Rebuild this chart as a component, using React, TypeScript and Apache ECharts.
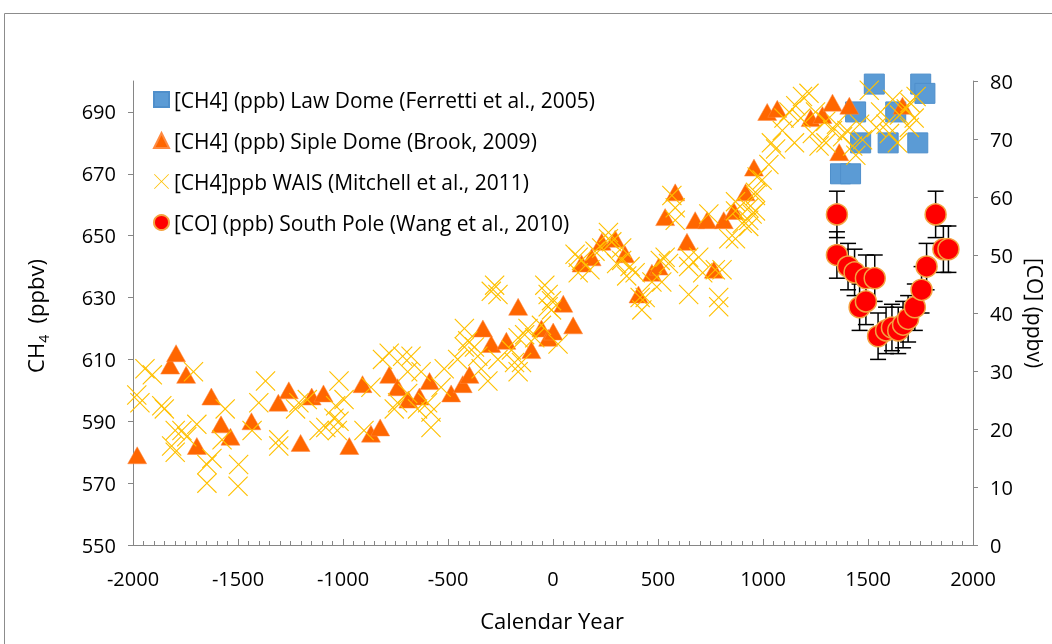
import React, { useEffect, useRef } from "react";
import * as echarts from "echarts";

// Law Dome CH4 (ppb)
const lawYears = [1369, 1417, 1441, 1465, 1530, 1596, 1632, 1737, 1751, 1771];
const lawCH4 = [670, 670, 690, 680, 699, 680, 690, 680, 699, 696];

// Siple Dome CH4 (ppb)
const sipleYears = [
  -1980, -1823, -1795, -1747, -1696, -1627, -1581, -1536, -1436, -1308, -1258, -1202, -1149, -1093,
  -970, -907, -867, -823, -780, -740, -689, -636, -588, -485, -430, -398, -334, -294, -222, -166,
  -103, -55, -23, 1, 49, 96, 136, 184, 232, 296, 343, 407, 471, 503, 534, 582, 638, 677, 734, 766,
  813, 861, 917, 957, 1020, 1068, 1227, 1283, 1331, 1363, 1411, 1664,
];
const sipleCH4 = [
  579, 608, 612, 605, 582, 598, 589, 585, 590, 596, 600, 583, 598, 599,
  582, 602, 586, 588, 605, 601, 597, 598, 603, 599, 602, 605, 620, 615, 616, 627,
  613, 620, 617, 619, 628, 621, 641, 643, 648, 649, 644, 631, 638, 640, 656, 664, 648, 655, 655, 639,
  655, 658, 664, 672, 690, 691, 688, 689, 693, 677, 692, 692,
];

// WAIS CH4 (ppb)
const waisYears = [
  -1982, -1967, -1943, -1908, -1863, -1851, -1816, -1799, -1799, -1767, -1744, -1712, -1696, -1648,
  -1648, -1624, -1576, -1561, -1500, -1497, -1433, -1401, -1369, -1306, -1306, -1226, -1210, -1170,
  -1114, -1082, -1043, -1035, -1027, -1019, -1019, -995, -900, -867, -812, -780, -756, -740, -716,
  -692, -692, -676, -645, -628, -597, -581, -581, -533, -518, -454, -422, -422, -406, -374, -358,
  -342, -310, -294, -278, -262, -262, -198, -183, -166, -166, -150, -135, -119, -87, -55, -39, -23,
  -23, -7, -7, 24, 105, 120, 120, 136, 176, 200, 232, 264, 264, 280, 303, 327, 327, 351, 367, 391,
  415, 423, 439, 471, 511, 518, 534, 550, 566, 582, 582, 646, 646, 646, 694, 713, 742, 773, 789,
  789, 805, 837, 869, 869, 869, 901, 932, 932, 932, 948, 964, 964, 964, 972, 996, 1028, 1040, 1060,
  1092, 1100, 1124, 1150, 1156, 1180, 1188, 1219, 1235, 1250, 1267, 1299, 1300, 1331, 1350, 1379,
  1400, 1427, 1442, 1460, 1474, 1506, 1540, 1560, 1586, 1602, 1618, 1640, 1650, 1682, 1697, 1700,
  1720, 1729,
];
const waisCH4 = [
  598.5, 596, 607, 605, 595, 594, 582, 587, 580, 587, 585, 606, 589, 576,
  570, 578, 584, 594, 569, 576, 587, 596, 603, 584, 582, 594, 596, 597,
  587, 588, 591, 595, 587, 603, 590, 597, 587, 601, 610, 612, 594, 596, 611,
  606, 599, 611, 594, 606, 596, 593, 588, 601, 607, 610, 620, 614, 616, 614, 611,
  607, 603, 632, 634, 631, 610, 613, 609, 606, 617, 609, 618, 620, 617, 621, 634, 627,
  631, 626, 629, 615, 644, 643, 638, 642, 639, 645, 646, 651, 649, 648, 641, 646, 642, 637, 640, 638,
  630, 626, 630, 635, 642, 635, 643, 641, 663, 659, 655, 631, 640, 643, 643, 638, 657, 639, 630,
  627, 639, 649, 661, 649, 658, 654, 659, 653, 655, 657, 664, 663, 658, 669, 668, 673, 680, 678,
  684, 688, 690, 680, 692, 688, 695, 696, 683, 690, 679, 687, 680, 684, 686, 682,
  684, 679, 676, 686, 681, 697, 685, 690, 686, 683, 694, 680, 689, 691, 685, 693,
  688, 695,
];

// South Pole CO (ppb)
const coYears = [1352, 1352, 1405, 1436, 1460, 1490, 1490, 1532, 1548, 1586, 1614, 1644, 1667, 1691, 1723, 1755, 1779, 1822, 1859, 1883];
const coValues = [57, 50, 48, 47, 41, 42, 46, 46, 36, 37, 37.5, 37, 38, 39, 41, 44, 48, 57, 51, 51];
const coErrors = [4, 4, 4, 4, 4, 4, 4, 4, 4, 4, 4, 4, 4, 4, 4, 4, 4, 4, 4, 4];

const ch4Ticks = [550, 570, 590, 610, 630, 650, 670, 690];
const coTicks = [0, 10, 20, 30, 40, 50, 60, 70, 80];

const names = [
  "[CH4] (ppb) Law Dome (Ferretti et al., 2005)",
  "[CH4] (ppb) Siple Dome (Brook, 2009)",
  "[CH4]ppb WAIS (Mitchell et al., 2011)",
  "[CO] (ppb) South Pole (Wang et al., 2010)",
];

const XPATH =
  "path://M0,4 L4,0 L50,46 L96,0 L100,4 L54,50 L100,96 L96,100 L50,54 L4,100 L0,96 L46,50 Z";

const FONT = "'Open Sans', Lato, sans-serif";

export default function App() {
  const ref = useRef<HTMLDivElement>(null);
  useEffect(() => {
    document.body.style.margin = "0";
    const chart = echarts.init(ref.current!, undefined, { renderer: "svg" });
    const zip = (xs: number[], ys: number[]) => xs.map((x, i) => [x, ys[i]]);
    const axisLine = { show: true, onZero: false, lineStyle: { color: "#868686", width: 1 } };
    chart.setOption({
      animation: false,
      textStyle: { fontFamily: FONT },
      grid: { left: 133, right: 79, top: 81, bottom: 99 },
      legend: {
        orient: "vertical",
        left: 148,
        top: 84,
        itemGap: 20,
        itemWidth: 15,
        itemHeight: 15,
        textStyle: { fontSize: 21, color: "#000", fontFamily: FONT },
        data: names,
      },
      xAxis: {
        type: "value",
        min: -2000,
        max: 2000,
        interval: 500,
        axisLine,
        splitLine: { show: false },
        axisTick: { inside: true, length: 6, lineStyle: { color: "#868686" } },
        minorTick: { show: true, splitNumber: 10, length: 4, lineStyle: { color: "#868686" } },
        axisLabel: { fontSize: 20, color: "#000", margin: 23, formatter: (v: number) => String(v) },
      },
      yAxis: [
        {
          type: "value",
          min: 550,
          max: 700,
          axisLine,
          splitLine: { show: false },
          axisTick: { show: true, length: 5, customValues: ch4Ticks, lineStyle: { color: "#868686" } },
          axisLabel: { fontSize: 20, color: "#000", margin: 17, customValues: ch4Ticks },
        },
        {
          type: "value",
          min: 0,
          max: 80,
          position: "right",
          axisLine,
          splitLine: { show: false },
          axisTick: { show: true, length: 5, customValues: coTicks, lineStyle: { color: "#868686" } },
          axisLabel: { fontSize: 20, color: "#000", margin: 17, customValues: coTicks },
        },
      ],
      graphic: [
        {
          type: "rect",
          z: -10,
          shape: { x: 4.5, y: 13.5, width: 1100, height: 700 },
          style: { fill: "none", stroke: "#8c8c8c", lineWidth: 1 },
        },
        {
          type: "text",
          x: 552,
          y: 620,
          style: { text: "Calendar Year", fill: "#000", font: `22px ${FONT}`, align: "center", verticalAlign: "middle" },
        },
        {
          type: "text",
          x: 32,
          y: 316,
          rotation: Math.PI / 2,
          style: {
            text: "{a|CH}{b|4}{a|  (ppbv)}",
            align: "center",
            verticalAlign: "middle",
            rich: {
              a: { fontSize: 22, fontFamily: FONT, fill: "#000", lineHeight: 28, verticalAlign: "bottom" },
              b: { fontSize: 14, fontFamily: FONT, fill: "#000", lineHeight: 28, verticalAlign: "bottom", padding: [0, 0, -4, 0] },
            },
          },
        },
        {
          type: "text",
          x: 1035,
          y: 313,
          rotation: -Math.PI / 2,
          style: { text: "[CO] (ppbv)", fill: "#000", font: `21px ${FONT}`, align: "center", verticalAlign: "middle" },
        },
      ],
      series: [
        {
          name: names[0],
          type: "scatter",
          symbol: "rect",
          symbolSize: 20,
          itemStyle: { color: "#5b9bd5", borderColor: "#4f8fcb", borderWidth: 1, opacity: 1 },
          data: zip(lawYears, lawCH4),
        },
        {
          name: names[1],
          type: "scatter",
          symbol: "triangle",
          symbolSize: [19, 17],
          itemStyle: { color: "#ff6600", borderColor: "#ff8a40", borderWidth: 0.5, opacity: 1 },
          data: zip(sipleYears, sipleCH4),
        },
        {
          name: names[2],
          type: "scatter",
          symbol: XPATH,
          symbolSize: 20,
          itemStyle: { color: "#ffc000", opacity: 1 },
          data: zip(waisYears, waisCH4),
        },
        {
          type: "custom",
          yAxisIndex: 1,
          silent: true,
          encode: { x: 0, y: 1 },
          data: coYears.map((x, i) => [x, coValues[i], coErrors[i]]),
          renderItem: (params: any, api: any) => {
            const x = api.value(0);
            const y = api.value(1);
            const e = api.value(2);
            const t = api.coord([x, y + e]);
            const b = api.coord([x, y - e]);
            const w = 8;
            const st = { stroke: "#000", lineWidth: 1.5 };
            return {
              type: "group",
              children: [
                { type: "line", shape: { x1: t[0], y1: t[1], x2: b[0], y2: b[1] }, style: st },
                { type: "line", shape: { x1: t[0] - w, y1: t[1], x2: t[0] + w, y2: t[1] }, style: st },
                { type: "line", shape: { x1: b[0] - w, y1: b[1], x2: b[0] + w, y2: b[1] }, style: st },
              ],
            };
          },
        },
        {
          name: names[3],
          type: "scatter",
          yAxisIndex: 1,
          symbol: "circle",
          symbolSize: 21,
          itemStyle: { color: "#ff0000", borderColor: "#f4a340", borderWidth: 1.5, opacity: 1 },
          data: zip(coYears, coValues),
        },
      ],
    });
    return () => chart.dispose();
  }, []);
  return <div ref={ref} style={{ position: "fixed", left: 0, top: 0, width: 1052, height: 644 }} />;
}
